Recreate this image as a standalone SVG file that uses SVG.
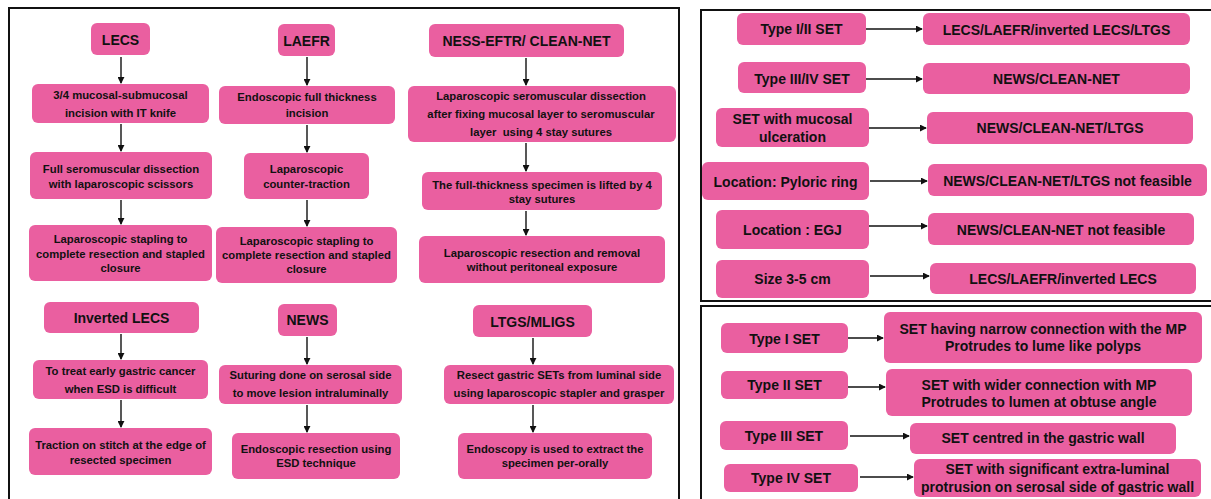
<svg xmlns="http://www.w3.org/2000/svg" width="1211" height="499" viewBox="0 0 1211 499">
<style>
.n{fill:#EA5FA0}
.t{font-family:"Liberation Sans",Arial,sans-serif;font-weight:bold;fill:#111;text-anchor:middle;dominant-baseline:central}
.h{font-size:14px}
.b{font-size:11.3px}
.r{font-size:14px}
.fr{fill:none;stroke:#111;stroke-width:2}
.c line{stroke:#111;stroke-width:1.4}
</style>
<defs>
<marker id="a" viewBox="0 0 8 8" refX="7" refY="4" markerWidth="7" markerHeight="7" markerUnits="userSpaceOnUse" orient="auto"><path d="M0,0L8,4L0,8z" fill="#111"/></marker>
</defs>
<rect width="1211" height="499" fill="#fff"/>
<g id="frames">
<rect class="fr" x="9" y="8" width="670" height="500"/>
<rect class="fr" x="701" y="10" width="520" height="291"/>
<rect class="fr" x="701" y="306" width="520" height="200"/>
</g>
<g class="c" id="connectors">
<line x1="121" y1="57" x2="121" y2="83" marker-end="url(#a)"/>
<line x1="121" y1="124" x2="121" y2="151" marker-end="url(#a)"/>
<line x1="121" y1="200" x2="121" y2="224" marker-end="url(#a)"/>
<line x1="307" y1="57" x2="307" y2="85" marker-end="url(#a)"/>
<line x1="307" y1="125" x2="307" y2="152" marker-end="url(#a)"/>
<line x1="307" y1="200" x2="307" y2="226" marker-end="url(#a)"/>
<line x1="526" y1="58" x2="526" y2="85" marker-end="url(#a)"/>
<line x1="526" y1="143" x2="526" y2="171" marker-end="url(#a)"/>
<line x1="526" y1="211" x2="526" y2="235" marker-end="url(#a)"/>
<line x1="121" y1="334" x2="121" y2="359" marker-end="url(#a)"/>
<line x1="121" y1="400" x2="121" y2="427" marker-end="url(#a)"/>
<line x1="307" y1="337" x2="307" y2="364" marker-end="url(#a)"/>
<line x1="307" y1="405" x2="307" y2="432" marker-end="url(#a)"/>
<line x1="533" y1="338" x2="533" y2="364" marker-end="url(#a)"/>
<line x1="533" y1="405" x2="533" y2="432" marker-end="url(#a)"/>
<line x1="866" y1="29" x2="922" y2="29" marker-end="url(#a)"/>
<line x1="866" y1="79" x2="922" y2="79" marker-end="url(#a)"/>
<line x1="869" y1="128" x2="926" y2="128" marker-end="url(#a)"/>
<line x1="870" y1="181" x2="927" y2="181" marker-end="url(#a)"/>
<line x1="869" y1="226" x2="927" y2="226" marker-end="url(#a)"/>
<line x1="870" y1="276" x2="929" y2="276" marker-end="url(#a)"/>
<line x1="848" y1="338" x2="883" y2="338" marker-end="url(#a)"/>
<line x1="848" y1="387" x2="885" y2="387" marker-end="url(#a)"/>
<line x1="850" y1="436" x2="909" y2="436" marker-end="url(#a)"/>
<line x1="860" y1="477" x2="913" y2="477" marker-end="url(#a)"/>
</g>
<g id="lecs"><rect class="n" x="91" y="23" width="59" height="32" rx="6"/><text class="t h" x="120.5" y="40">LECS</text></g>
<g id="laefr"><rect class="n" x="278" y="24" width="57" height="32" rx="6"/><text class="t h" x="306.5" y="41">LAEFR</text></g>
<g id="ness"><rect class="n" x="429" y="24" width="195" height="33" rx="6"/><text class="t h" x="526.5" y="41">NESS-EFTR/ CLEAN-NET</text></g>
<g id="lecs2"><rect class="n" x="32" y="84" width="177" height="39" rx="6"/><text class="t b" x="120.5" y="95">3/4 mucosal-submucosal</text><text class="t b" x="120.5" y="113">incision with IT knife</text></g>
<g id="laefr2"><rect class="n" x="219" y="86" width="176" height="38" rx="6"/><text class="t b" x="307" y="97">Endoscopic full thickness</text><text class="t b" x="307" y="113">incision</text></g>
<g id="ness2"><rect class="n" x="408" y="86" width="268" height="56" rx="6"/><text class="t b" x="541" y="96">Laparoscopic seromuscular dissection</text><text class="t b" x="541" y="114">after fixing mucosal layer to seromuscular</text><text class="t b" x="541" y="132">layer&#160; using 4 stay sutures</text></g>
<g id="lecs3"><rect class="n" x="30" y="152" width="182" height="47" rx="6"/><text class="t b" x="121" y="169">Full seromuscular dissection</text><text class="t b" x="121" y="184">with laparoscopic scissors</text></g>
<g id="laefr3"><rect class="n" x="244" y="153" width="125" height="46" rx="6"/><text class="t b" x="306.5" y="169">Laparoscopic</text><text class="t b" x="306.5" y="184">counter-traction</text></g>
<g id="ness3"><rect class="n" x="422" y="172" width="240" height="38" rx="6"/><text class="t b" x="542" y="185">The full-thickness specimen is lifted by 4</text><text class="t b" x="542" y="199">stay sutures</text></g>
<g id="lecs4"><rect class="n" x="29" y="225" width="183" height="56" rx="6"/><text class="t b" x="120.5" y="239">Laparoscopic stapling to</text><text class="t b" x="120.5" y="254">complete resection and stapled</text><text class="t b" x="120.5" y="268">closure</text></g>
<g id="laefr4"><rect class="n" x="216" y="227" width="181" height="56" rx="6"/><text class="t b" x="306.5" y="241">Laparoscopic stapling to</text><text class="t b" x="306.5" y="255">complete resection and stapled</text><text class="t b" x="306.5" y="269">closure</text></g>
<g id="ness4"><rect class="n" x="419" y="236" width="246" height="47" rx="6"/><text class="t b" x="542" y="253">Laparoscopic resection and removal</text><text class="t b" x="542" y="267">without peritoneal exposure</text></g>
<g id="inv"><rect class="n" x="44" y="302" width="155" height="31" rx="6"/><text class="t h" x="121.5" y="318">Inverted LECS</text></g>
<g id="news"><rect class="n" x="278" y="304" width="59" height="32" rx="6"/><text class="t h" x="307.5" y="320">NEWS</text></g>
<g id="ltgs"><rect class="n" x="473" y="305" width="119" height="32" rx="6"/><text class="t h" x="532.5" y="322">LTGS/MLIGS</text></g>
<g id="inv2"><rect class="n" x="33" y="360" width="175" height="39" rx="6"/><text class="t b" x="120.5" y="371">To treat early gastric cancer</text><text class="t b" x="120.5" y="389">when ESD is difficult</text></g>
<g id="news2"><rect class="n" x="219" y="365" width="183" height="39" rx="6"/><text class="t b" x="310.5" y="375">Suturing done on serosal side</text><text class="t b" x="310.5" y="393">to move lesion intraluminally</text></g>
<g id="ltgs2"><rect class="n" x="444" y="365" width="230" height="39" rx="6"/><text class="t b" x="559" y="375">Resect gastric SETs from luminal side</text><text class="t b" x="559" y="393">using laparoscopic stapler and grasper</text></g>
<g id="inv3"><rect class="n" x="29" y="428" width="183" height="47" rx="6"/><text class="t b" x="120.5" y="445">Traction on stitch at the edge of</text><text class="t b" x="120.5" y="460">resected specimen</text></g>
<g id="news3"><rect class="n" x="232" y="433" width="168" height="46" rx="6"/><text class="t b" x="316" y="449">Endoscopic resection using</text><text class="t b" x="316" y="463">ESD technique</text></g>
<g id="ltgs3"><rect class="n" x="458" y="433" width="194" height="46" rx="6"/><text class="t b" x="555" y="449">Endoscopy is used to extract the</text><text class="t b" x="555" y="463">specimen per-orally</text></g>
<g id="r1"><rect class="n" x="737" y="13" width="129" height="32" rx="6"/><text class="t r" x="801.5" y="29">Type I/II SET</text></g>
<g id="r1b"><rect class="n" x="923" y="13" width="267" height="32" rx="6"/><text class="t r" x="1056.5" y="30">LECS/LAEFR/inverted LECS/LTGS</text></g>
<g id="r2"><rect class="n" x="738" y="62" width="128" height="31" rx="6"/><text class="t r" x="802" y="79">Type III/IV SET</text></g>
<g id="r2b"><rect class="n" x="923" y="63" width="267" height="31" rx="6"/><text class="t r" x="1056.5" y="79">NEWS/CLEAN-NET</text></g>
<g id="r3"><rect class="n" x="716" y="108" width="153" height="39" rx="6"/><text class="t r" x="792.5" y="119">SET with mucosal</text><text class="t r" x="792.5" y="137">ulceration</text></g>
<g id="r3b"><rect class="n" x="927" y="112" width="266" height="32" rx="6"/><text class="t r" x="1060" y="128">NEWS/CLEAN-NET/LTGS</text></g>
<g id="r4"><rect class="n" x="702" y="162" width="167" height="38" rx="6"/><text class="t r" x="785.5" y="182">Location: Pyloric ring</text></g>
<g id="r4b"><rect class="n" x="928" y="164" width="279" height="32" rx="6"/><text class="t r" x="1067.5" y="181">NEWS/CLEAN-NET/LTGS not feasible</text></g>
<g id="r5"><rect class="n" x="716" y="210" width="153" height="39" rx="6"/><text class="t r" x="792.5" y="230">Location : EGJ</text></g>
<g id="r5b"><rect class="n" x="928" y="213" width="266" height="32" rx="6"/><text class="t r" x="1061" y="230">NEWS/CLEAN-NET not feasible</text></g>
<g id="r6"><rect class="n" x="716" y="260" width="153" height="38" rx="6"/><text class="t r" x="792.5" y="279">Size 3-5 cm</text></g>
<g id="r6b"><rect class="n" x="930" y="263" width="266" height="31" rx="6"/><text class="t r" x="1063" y="279">LECS/LAEFR/inverted LECS</text></g>
<g id="t1"><rect class="n" x="721" y="323" width="127" height="30" rx="6"/><text class="t r" x="784.5" y="339">Type I SET</text></g>
<g id="t1b"><rect class="n" x="884" y="312" width="318" height="51" rx="6"/><text class="t r" x="1043" y="329">SET having narrow connection with the MP</text><text class="t r" x="1043" y="346">Protrudes to lume like polyps</text></g>
<g id="t2"><rect class="n" x="721" y="371" width="127" height="28" rx="6"/><text class="t r" x="784.5" y="385">Type II SET</text></g>
<g id="t2b"><rect class="n" x="886" y="369" width="306" height="47" rx="6"/><text class="t r" x="1039" y="385">SET with wider connection with MP</text><text class="t r" x="1039" y="402">Protrudes to lumen at obtuse angle</text></g>
<g id="t3"><rect class="n" x="720" y="421" width="128" height="29" rx="6"/><text class="t r" x="784" y="436">Type III SET</text></g>
<g id="t3b"><rect class="n" x="910" y="423" width="266" height="31" rx="6"/><text class="t r" x="1043" y="438">SET centred in the gastric wall</text></g>
<g id="t4"><rect class="n" x="724" y="464" width="134" height="28" rx="6"/><text class="t r" x="791" y="478">Type IV SET</text></g>
<g id="t4b"><rect class="n" x="914" y="459" width="287" height="38" rx="6"/><text class="t r" x="1057.5" y="469">SET with significant extra-luminal</text><text class="t r" x="1057.5" y="487">protrusion on serosal side of gastric wall</text></g>
</svg>
